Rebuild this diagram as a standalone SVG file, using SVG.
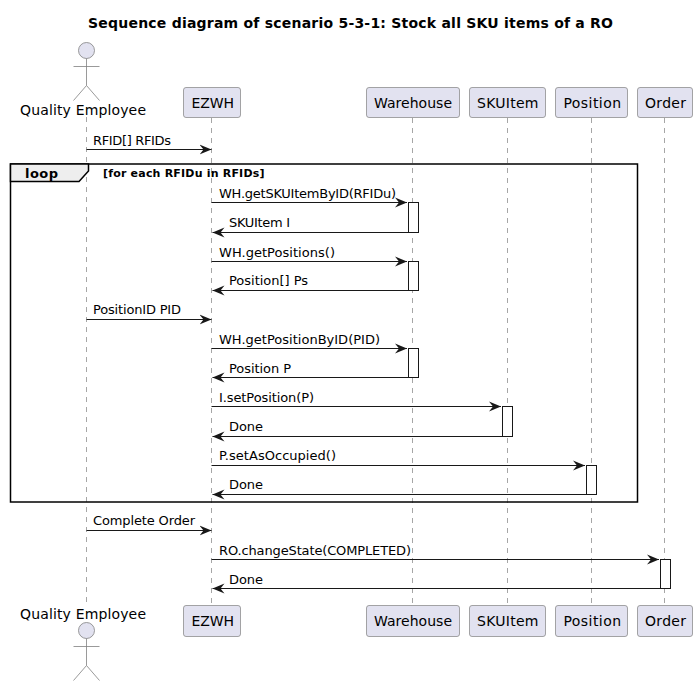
<svg xmlns="http://www.w3.org/2000/svg" width="697" height="686" viewBox="0 0 697 686">
<defs>
<style>
text{font-family:"DejaVu Sans",sans-serif;fill:#000}
.title{font-size:14px;font-weight:bold}
.p{font-size:14px}
.m{font-size:13px}
.box{fill:#E2E2F0;stroke:#808080;stroke-width:.7}
.life{stroke:#808080;stroke-width:.7;stroke-dasharray:5 5;fill:none}
.actor{fill:none;stroke:#808080;stroke-width:.8}
.msg{stroke:#181818;stroke-width:1;fill:none}
.act{fill:#fff;stroke:#181818;stroke-width:1}
</style>
<marker id="ar" markerUnits="userSpaceOnUse" markerWidth="14" markerHeight="12" refX="12" refY="6" orient="auto">
<path d="M0,1 L12,6 L0,11 L4,6 Z" fill="#181818"/>
</marker>
</defs>
<rect width="697" height="686" fill="#fff"/>
<text class="title" x="88" y="28" textLength="525">Sequence diagram of scenario 5-3-1: Stock all SKU items of a RO</text>
<g id="lifelines">
<line class="life" x1="86.5" y1="117" x2="86.5" y2="605"/>
<line class="life" x1="211.5" y1="118" x2="211.5" y2="605"/>
<line class="life" x1="412.5" y1="118" x2="412.5" y2="605"/>
<line class="life" x1="507.5" y1="118" x2="507.5" y2="605"/>
<line class="life" x1="591.5" y1="118" x2="591.5" y2="605"/>
<line class="life" x1="664.5" y1="118" x2="664.5" y2="605"/>
</g>
<g id="frame">
<rect x="10.5" y="164" width="627" height="338" fill="none" stroke="#000" stroke-width="1.5"/>
<path d="M10.5,164 H88.5 V171 L79,181.5 H10.5 Z" fill="#EEEEEE" stroke="#000" stroke-width="1.5"/>
<text x="25" y="178" textLength="33" style="font-size:13px;font-weight:bold">loop</text>
<text x="103" y="177" textLength="161.5" style="font-size:11px;font-weight:bold">[for each RFIDu in RFIDs]</text>
</g>
<g id="activations">
<rect class="act" x="408.5" y="202.5" width="10" height="30"/>
<rect class="act" x="408.5" y="261.5" width="10" height="29"/>
<rect class="act" x="408.5" y="348.5" width="10" height="29"/>
<rect class="act" x="502.5" y="406.5" width="10" height="30"/>
<rect class="act" x="586.5" y="465.5" width="10" height="29"/>
<rect class="act" x="660.5" y="559.5" width="10" height="29"/>
</g>
<g id="connectors">
<line class="msg" marker-end="url(#ar)" x1="86.5" y1="149.5" x2="211.5" y2="149.5"/>
<line class="msg" marker-end="url(#ar)" x1="211.5" y1="202.5" x2="407" y2="202.5"/>
<line class="msg" marker-end="url(#ar)" x1="408" y1="232.5" x2="212.5" y2="232.5"/>
<line class="msg" marker-end="url(#ar)" x1="211.5" y1="261.5" x2="407" y2="261.5"/>
<line class="msg" marker-end="url(#ar)" x1="408" y1="290.5" x2="212.5" y2="290.5"/>
<line class="msg" marker-end="url(#ar)" x1="86.5" y1="319.5" x2="211.5" y2="319.5"/>
<line class="msg" marker-end="url(#ar)" x1="211.5" y1="348.5" x2="407" y2="348.5"/>
<line class="msg" marker-end="url(#ar)" x1="408" y1="377.5" x2="212.5" y2="377.5"/>
<line class="msg" marker-end="url(#ar)" x1="211.5" y1="406.5" x2="501" y2="406.5"/>
<line class="msg" marker-end="url(#ar)" x1="502" y1="436.5" x2="212.5" y2="436.5"/>
<line class="msg" marker-end="url(#ar)" x1="211.5" y1="465.5" x2="585" y2="465.5"/>
<line class="msg" marker-end="url(#ar)" x1="586" y1="494.5" x2="212.5" y2="494.5"/>
<line class="msg" marker-end="url(#ar)" x1="86.5" y1="530.5" x2="211.5" y2="530.5"/>
<line class="msg" marker-end="url(#ar)" x1="211.5" y1="559.5" x2="659" y2="559.5"/>
<line class="msg" marker-end="url(#ar)" x1="660" y1="588.5" x2="212.5" y2="588.5"/>
</g>
<g id="messages">
<text class="m" x="93" y="145" textLength="78">RFID[] RFIDs</text>
<text class="m" x="219" y="198" textLength="177">WH.getSKUItemByID(RFIDu)</text>
<text class="m" x="229" y="227" textLength="61">SKUItem I</text>
<text class="m" x="219" y="257" textLength="116">WH.getPositions()</text>
<text class="m" x="229" y="285" textLength="79">Position[] Ps</text>
<text class="m" x="93" y="314" textLength="88">PositionID PID</text>
<text class="m" x="219" y="344" textLength="161">WH.getPositionByID(PID)</text>
<text class="m" x="229" y="373" textLength="62">Position P</text>
<text class="m" x="219" y="402" textLength="95">I.setPosition(P)</text>
<text class="m" x="229" y="431" textLength="34">Done</text>
<text class="m" x="219" y="460" textLength="117">P.setAsOccupied()</text>
<text class="m" x="229" y="489" textLength="34">Done</text>
<text class="m" x="93" y="525" textLength="102">Complete Order</text>
<text class="m" x="219" y="555" textLength="192">RO.changeState(COMPLETED)</text>
<text class="m" x="229" y="584" textLength="34">Done</text>
</g>
<g id="actor-top">
<circle class="actor" style="fill:#E2E2F0" cx="86.5" cy="50.5" r="8"/>
<path class="actor" d="M86.5,58.5 V85.5 M73.5,66.5 H99.5 M86.5,85.5 L73.5,100.5 M86.5,85.5 L99.5,100.5"/>
<text class="p" x="20" y="115" textLength="126">Quality Employee</text>
</g>
<g id="actor-bottom">
<text class="p" x="20" y="619" textLength="126">Quality Employee</text>
<circle class="actor" style="fill:#E2E2F0" cx="86.5" cy="630.5" r="8"/>
<path class="actor" d="M86.5,638.5 V665.5 M73.5,646.5 H99.5 M86.5,665.5 L73.5,680.5 M86.5,665.5 L99.5,680.5"/>
</g>
<g id="ezwh-top"><rect class="box" x="183.5" y="87.5" width="57" height="30" rx="2.5"/><text class="p" x="191.5" y="107.5" textLength="42.5">EZWH</text></g>
<g id="warehouse-top"><rect class="box" x="366.5" y="87.5" width="93" height="30" rx="2.5"/><text class="p" x="374" y="107.5" textLength="78">Warehouse</text></g>
<g id="skuitem-top"><rect class="box" x="469.5" y="87.5" width="76" height="30" rx="2.5"/><text class="p" x="477" y="107.5" textLength="61.5">SKUItem</text></g>
<g id="position-top"><rect class="box" x="555.5" y="87.5" width="72" height="30" rx="2.5"/><text class="p" x="563.5" y="107.5" textLength="57.5">Position</text></g>
<g id="order-top"><rect class="box" x="637.5" y="87.5" width="55" height="30" rx="2.5"/><text class="p" x="645" y="107.5" textLength="41">Order</text></g>
<g id="ezwh-bottom"><rect class="box" x="183.5" y="605.5" width="57" height="31" rx="2.5"/><text class="p" x="191.5" y="626" textLength="42.5">EZWH</text></g>
<g id="warehouse-bottom"><rect class="box" x="366.5" y="605.5" width="93" height="31" rx="2.5"/><text class="p" x="374" y="626" textLength="78">Warehouse</text></g>
<g id="skuitem-bottom"><rect class="box" x="469.5" y="605.5" width="76" height="31" rx="2.5"/><text class="p" x="477" y="626" textLength="61.5">SKUItem</text></g>
<g id="position-bottom"><rect class="box" x="555.5" y="605.5" width="72" height="31" rx="2.5"/><text class="p" x="563.5" y="626" textLength="57.5">Position</text></g>
<g id="order-bottom"><rect class="box" x="637.5" y="605.5" width="55" height="31" rx="2.5"/><text class="p" x="645" y="626" textLength="41">Order</text></g>
</svg>
